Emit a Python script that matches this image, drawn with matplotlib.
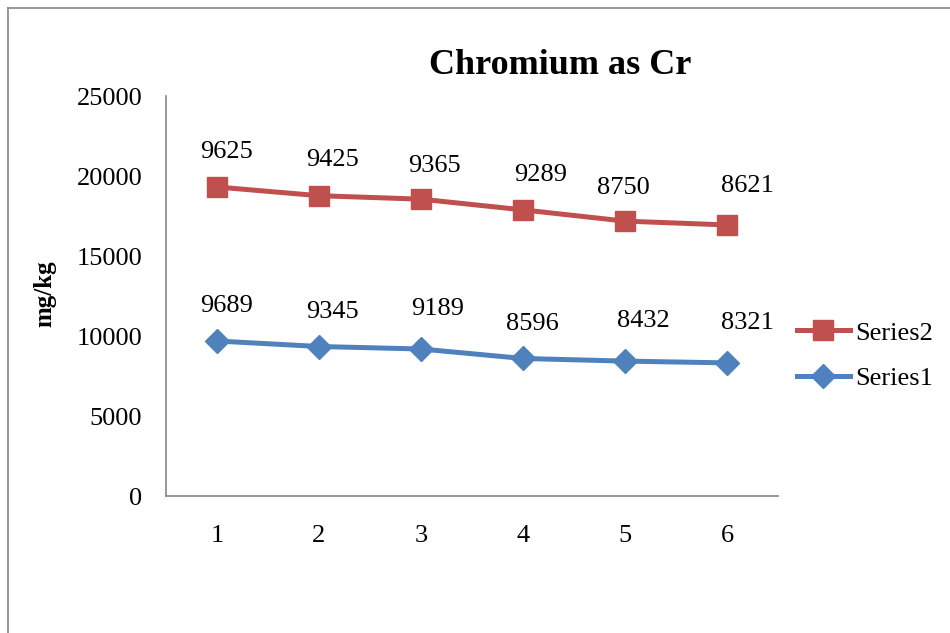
import matplotlib.pyplot as plt
from matplotlib.lines import Line2D
import numpy as np

plt.rcParams['font.family'] = ['Liberation Serif', 'DejaVu Serif']

# sample numbers and the two measurement series (stacked)
samples = [1, 2, 3, 4, 5, 6]
series1 = [9689, 9345, 9189, 8596, 8432, 8321]
series2 = [9625, 9425, 9365, 9289, 8750, 8621]
yticks = [0, 5000, 10000, 15000, 20000, 25000]

red = '#C0504D'
blue = '#4F81BD'
gray = '#868686'

# label nudges in points (dx, dy) - roughly where the labels were dragged
s1_off = [(7, 25), (10, 25), (12, 29), (7, 25), (13, 29), (15, 29)]
s2_off = [(7, 25), (10, 26), (10, 24), (13, 25), (-1, 24), (15, 28)]

fig = plt.figure(figsize=(9.5, 6.33), dpi=100)
ax = fig.add_axes([0.1747, 0.2164, 0.6442, 0.6319])

s1 = np.array(series1)
s2_top = s1 + np.array(series2)

ax.plot(samples, s2_top, color=red, lw=3.6, marker='s', ms=14, label='Series2')
ax.plot(samples, s1, color=blue, lw=3.6, marker='D', ms=12, label='Series1')

for x, y, v, o in zip(samples, s2_top, series2, s2_off):
    ax.annotate(str(v), (x, y), xytext=o, textcoords='offset points',
                ha='center', va='center', fontsize=19)
for x, y, v, o in zip(samples, s1, series1, s1_off):
    ax.annotate(str(v), (x, y), xytext=o, textcoords='offset points',
                ha='center', va='center', fontsize=19)

ax.set_xlim(0.5, 6.5)
ax.set_ylim(0, 25000)
ax.set_xticks(samples)
ax.set_yticks(yticks)
ax.tick_params(length=0, labelsize=19)
ax.tick_params(axis='y', pad=17)
ax.tick_params(axis='x', pad=21)
for s in ['top', 'right']:
    ax.spines[s].set_visible(False)
for s in ['left', 'bottom']:
    ax.spines[s].set_color(gray)
    ax.spines[s].set_linewidth(1.2)

leg = fig.legend(loc='center left', bbox_to_anchor=(797 / 950, 1 - 355.5 / 633),
                 frameon=False, fontsize=19, handlelength=2.0, handletextpad=0.2,
                 labelspacing=0.83, borderpad=0, borderaxespad=0)

fig.text(560 / 950, 1 - 66 / 633, 'Chromium as Cr', ha='center', va='center',
         fontsize=26, fontweight='bold')
fig.text(45 / 950, 1 - 294 / 633, 'mg/kg', ha='center', va='center',
         rotation=90, fontsize=18, fontweight='bold')

# outer chart frame (left and top edges)
fig.add_artist(Line2D([8 / 950, 8 / 950], [0, 1 - 8 / 633], color=gray, lw=1.2,
                      transform=fig.transFigure))
fig.add_artist(Line2D([8 / 950, 1], [1 - 8 / 633, 1 - 8 / 633], color=gray, lw=1.2,
                      transform=fig.transFigure))

fig.savefig('out.png', dpi=100)
